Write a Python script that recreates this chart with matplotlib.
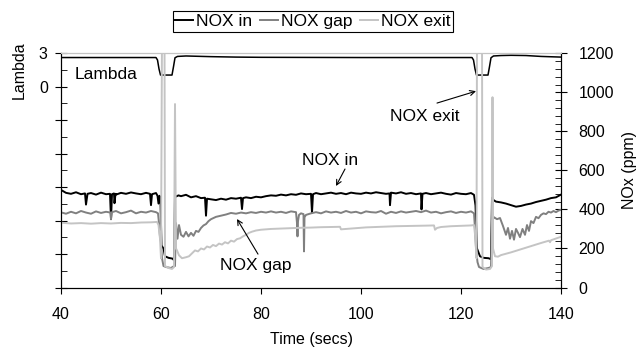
import matplotlib.pyplot as plt
from matplotlib.ticker import MultipleLocator, FixedLocator

plt.rcParams['font.family'] = ['Liberation Sans', 'DejaVu Sans']

# Lambda (left axis)
lam_t = [40, 59.0, 59.3, 59.6, 59.9, 62.2, 62.5, 62.8, 63.3, 65, 70, 75, 80, 90, 100, 110,
         122.2, 122.5, 122.8, 123.1, 125.4, 125.7, 126.0, 126.5, 128, 130, 133, 136, 140]
lam_v = [2.62, 2.62, 2.4, 1.6, 1.05, 1.05, 1.8, 2.6, 2.72, 2.76, 2.7, 2.66, 2.64, 2.63, 2.62, 2.62,
         2.62, 2.4, 1.6, 1.05, 1.05, 1.8, 2.6, 2.76, 2.8, 2.82, 2.8, 2.72, 2.66]

# NOX in (ppm)
nox_in_t = [40, 41, 42, 43, 44, 44.8, 45, 45.3, 46, 47, 48, 49, 49.8, 50, 50.2, 50.6, 50.7, 50.9,
            51, 52, 53, 54, 55, 56, 57, 57.8, 58, 58.2, 59, 59.3, 59.5, 59.7, 59.9, 60.1, 60.5,
            60.8, 61.5, 62.3, 62.6, 62.8, 63, 63.5, 64, 65, 66, 67, 68, 68.8, 69, 69.2, 70, 71,
            72, 73, 74, 75, 76, 76.2, 76.4, 77, 78, 79, 80, 81, 82, 83, 84, 85, 86, 87, 88, 89,
            90, 90.2, 90.4, 91, 92, 93, 94, 95, 96, 97, 98, 99, 100, 101, 102, 103, 104, 105,
            105.7, 105.8, 106, 107, 108, 109, 110, 111, 112, 112.1, 112.3, 113, 114, 115, 116,
            117, 118, 119, 120, 121, 122, 122.6, 122.9, 123.2, 123.8, 124.5, 125.5, 126, 126.2,
            126.5, 127, 128, 129, 130, 131, 132, 133, 134, 135, 136, 137, 138, 139, 140]
nox_in_v = [500, 485, 480, 488, 478, 482, 425, 480, 484, 476, 486, 478, 480, 350, 478, 482, 432, 480,
            476, 485, 480, 487, 482, 478, 485, 480, 422, 478, 484, 470, 430, 470, 440, 215, 200,
            160, 152, 148, 140, 470, 466, 472, 468, 475, 462, 468, 458, 460, 368, 455, 452, 448,
            455, 450, 458, 455, 460, 402, 458, 462, 458, 465, 462, 468, 472, 470, 476, 472, 478,
            475, 482, 478, 480, 385, 478, 484, 478, 482, 486, 480, 484, 478, 486, 482, 480, 486,
            482, 488, 484, 480, 482, 422, 486, 482, 488, 480, 484, 478, 482, 400, 480, 484, 478,
            482, 486, 480, 476, 484, 480, 478, 484, 475, 420, 200, 160, 152, 150, 145, 460,
            448, 440, 436, 430, 422, 414, 418, 425, 430, 438, 444, 450, 458, 462, 476]

# NOX gap (ppm)
nox_gap_t = [40, 41, 42, 43, 44, 45, 46, 47, 48, 49, 49.9, 50, 50.2, 51, 52, 53, 54, 55, 56, 57,
             58, 59, 59.4, 59.6, 59.8, 60.0, 60.2, 60.5, 61, 62, 62.5, 62.8, 63.0, 63.3, 63.6,
             64, 64.5, 65, 65.5, 66, 66.5, 67, 67.5, 68, 68.5, 69, 69.5, 70, 70.5, 71, 72, 73,
             74, 75, 76, 77, 78, 79, 80, 81, 82, 83, 84, 85, 86, 87, 87.2, 87.3, 87.4, 87.6, 88,
             88.5, 88.6, 88.7, 89, 90, 91, 92, 93, 94, 95, 96, 97, 98, 99, 100, 101, 102, 103,
             104, 105, 106, 107, 108, 109, 110, 111, 112, 113, 114, 115, 116, 117, 118, 119, 120,
             121, 122, 122.6, 122.8, 123, 123.3, 123.6, 124.5, 125.5, 126, 126.2, 126.6, 127.2,
             127.8, 128.4, 129, 129.4, 129.8, 130.2, 130.6, 131, 131.4, 131.8, 132.3, 132.8,
             133.2, 133.6, 134, 134.5, 135, 135.5, 136, 136.5, 137, 137.5, 138, 138.5, 139,
             139.5, 140]
nox_gap_v = [385, 378, 388, 380, 392, 384, 378, 390, 382, 388, 384, 350, 386, 392, 380, 386, 394,
             380, 388, 384, 392, 386, 380, 330, 260, 230, 150, 110, 105, 100, 108, 110, 330, 250,
             320, 270, 260, 285, 262, 280, 265, 290, 285, 305, 318, 325, 340, 350, 356, 362, 368,
             374, 382, 378, 384, 380, 386, 382, 388, 384, 390, 384, 388, 382, 390, 386, 330, 262,
             340, 372, 380, 376, 185, 360, 372, 380, 386, 380, 390, 384, 388, 382, 392, 384, 388,
             380, 390, 386, 384, 392, 378, 388, 382, 390, 384, 388, 392, 386, 394, 384, 388, 380,
             386, 390, 382, 388, 384, 390, 380, 300, 200, 130, 105, 95, 100, 105, 340, 360, 350,
             356, 315, 270, 305, 250, 290, 245, 300, 280, 258, 300, 270, 320, 290, 340, 330, 362,
             355, 372, 380, 376, 388, 384, 392, 386, 394, 398]

# NOX exit (ppm)
nox_exit_t = [40, 42, 44, 46, 48, 50, 52, 54, 56, 58, 59.2, 59.5, 59.8, 60.0, 60.2, 60.7, 60.8,
              61.5, 62.2, 62.6, 62.8, 63.0, 63.2, 63.6, 64.2, 65, 65.6, 66.2, 66.8, 67.4, 68,
              68.6, 69.2, 69.8, 70.4, 71, 71.6, 72.2, 72.8, 73.4, 74, 74.6, 75.2, 75.8, 76.4,
              77, 77.6, 78.2, 79, 80, 81, 82, 84, 86, 88, 90, 92, 94, 95.8, 96, 97, 99, 101,
              103, 105, 107, 109, 111, 113, 114.6, 114.8, 115.2, 116, 118, 120, 122, 122.6,
              122.9, 123.1, 123.2, 124.2, 124.3, 125, 125.8, 126.2, 126.3, 126.4, 126.8, 127.4,
              128, 130, 132, 134, 136, 137.6, 137.8, 138, 140]
nox_exit_v = [332, 328, 330, 327, 330, 328, 331, 330, 333, 334, 336, 320, 250, 150, 1300, 1300, 110,
              100, 95, 105, 940, 200, 190, 165, 150, 155, 160, 175, 190, 185, 200, 195, 210, 205,
              218, 212, 225, 220, 232, 226, 240, 235, 248, 252, 262, 270, 280, 286, 292, 296, 298,
              300, 302, 304, 306, 307, 309, 310, 311, 298, 300, 304, 308, 310, 312, 314, 315, 316,
              317, 318, 296, 305, 310, 314, 316, 318, 320, 250, 150, 1300, 1300, 105, 92, 95, 110,
              975, 200, 160, 158, 166, 180, 196, 212, 228, 240, 232, 242, 260]

fig = plt.figure(figsize=(6.39, 3.52), dpi=100)
ax = fig.add_axes([61 / 639, 1 - 287.5 / 352, 500 / 639, 234.2 / 352])
ax2 = ax.twinx()

ax.plot(lam_t, lam_v, color='black', lw=1.1)
ax2.plot(nox_in_t, nox_in_v, color='black', lw=1.4, label='NOX in')
ax2.plot(nox_gap_t, nox_gap_v, color='#808080', lw=1.4, label='NOX gap')
ax2.plot(nox_exit_t, nox_exit_v, color='#c4c4c4', lw=1.4, label='NOX exit')

ax.set_xlim(40, 140)
ax.set_ylim(-18, 3)
ax2.set_ylim(0, 1200)

ax.xaxis.set_major_locator(MultipleLocator(20))
ax.yaxis.set_major_locator(FixedLocator([3, 0, -3, -6, -9, -12, -15, -18]))
ax.yaxis.set_minor_locator(MultipleLocator(1.5))
ax.set_yticklabels(['3', '0', '', '', '', '', '', ''])
ax2.yaxis.set_major_locator(MultipleLocator(200))
ax2.yaxis.set_minor_locator(MultipleLocator(40))

ax.tick_params(axis='x', direction='out', length=4, labelsize=11.5, pad=10)
ax.tick_params(axis='y', which='major', direction='inout', length=9, labelsize=11.5, pad=5)
ax.tick_params(axis='y', which='minor', direction='in', length=4)
ax2.tick_params(axis='y', which='major', direction='inout', length=9, labelsize=11.5, pad=8)
ax2.tick_params(axis='y', which='minor', direction='in', length=4)

for a in (ax, ax2):
    a.spines['top'].set_color('#c4c4c4')

ax.set_xlabel('Time (secs)', fontsize=11.5, labelpad=7)
ax.set_ylabel('Lambda', fontsize=11.5)
ax.yaxis.set_label_coords(-0.068, 0.93)
ax2.set_ylabel('NOx (ppm)', fontsize=11.5)
ax2.yaxis.set_label_coords(1.122, 0.5)

arrow = dict(arrowstyle='->', color='black', lw=0.8, mutation_scale=9, shrinkA=0, shrinkB=0)
ax2.text(42.8, 1093, 'Lambda', fontsize=12.5, ha='left', va='center')
ax2.text(112.8, 878, 'NOX exit', fontsize=12.5, ha='center', va='center')
ax2.annotate('', xy=(123, 1006), xytext=(115.2, 945), arrowprops=arrow)
ax2.text(93.8, 653, 'NOX in', fontsize=12.5, ha='center', va='center')
ax2.annotate('', xy=(95, 520), xytext=(96.8, 607), arrowprops=arrow)
ax2.text(79, 115, 'NOX gap', fontsize=12.5, ha='center', va='center')
ax2.annotate('', xy=(75.2, 351), xytext=(79.4, 171), arrowprops=arrow)

leg = fig.legend(loc='center', bbox_to_anchor=(313 / 639, 1 - 21.5 / 352), ncol=3,
                 fontsize=12.5, handlelength=1.0, handletextpad=0.2, columnspacing=0.45,
                 borderpad=0.15, fancybox=False, edgecolor='black', framealpha=1)
leg.get_frame().set_linewidth(0.8)

fig.savefig('out.png', dpi=100)
